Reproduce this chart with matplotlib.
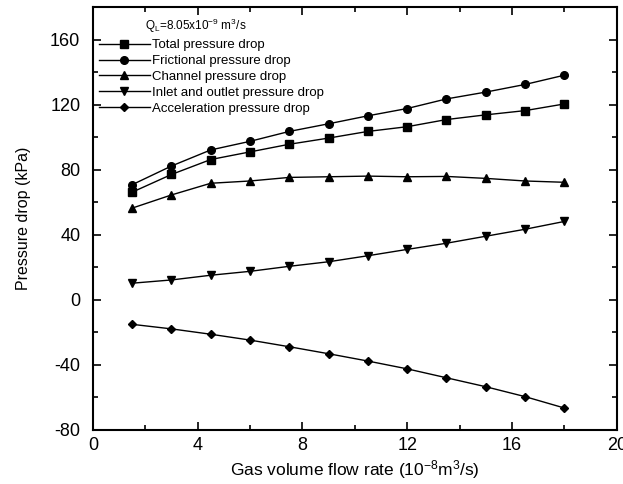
# pressure drop components vs gas flow rate

import matplotlib
matplotlib.use("Agg")
import matplotlib.pyplot as plt
from matplotlib.ticker import MultipleLocator

plt.rcParams["font.family"] = ["Liberation Sans", "DejaVu Sans"]
plt.rcParams["mathtext.fontset"] = "custom"
plt.rcParams["mathtext.rm"] = "Liberation Sans"
plt.rcParams["mathtext.it"] = "Liberation Sans"
plt.rcParams["axes.unicode_minus"] = False

# data
gas_flow = [1.5, 3, 4.5, 6, 7.5, 9, 10.5, 12, 13.5, 15, 16.5, 18]
total = [66.2, 77.1, 86.3, 91.0, 95.7, 99.5, 103.6, 106.5, 110.9, 113.8, 116.4, 120.5]
frictional = [70.8, 82.3, 92.2, 97.5, 103.6, 108.3, 113.2, 117.7, 123.6, 127.8, 132.5, 138.2]
channel = [56.4, 64.5, 71.7, 73.1, 75.3, 75.7, 76.1, 75.7, 75.9, 74.7, 73.1, 72.3]
inlet_outlet = [10.2, 12.2, 15.1, 17.5, 20.6, 23.4, 27.1, 31.0, 34.8, 39.1, 43.4, 48.2]
acceleration = [-15.1, -17.9, -21.2, -24.8, -28.9, -33.2, -37.7, -42.5, -48.0, -53.5, -59.6, -66.6]

series = [
    (total, "s", "Total pressure drop"),
    (frictional, "o", "Frictional pressure drop"),
    (channel, "^", "Channel pressure drop"),
    (inlet_outlet, "v", "Inlet and outlet pressure drop"),
    (acceleration, "D", "Acceleration pressure drop"),
]

fig = plt.figure(figsize=(6.23, 4.84), dpi=100)
ax = fig.add_axes([0.149, 0.112, 0.841, 0.873])

for vals, mk, lab in series:
    ms = 4.5 if mk == "D" else 5.5
    ax.plot(gas_flow, vals, color="black", lw=1.0, marker=mk, ms=ms, label=lab)

ax.set_xlim(0, 20)
ax.set_ylim(-80, 180)
ax.xaxis.set_major_locator(MultipleLocator(4))
ax.xaxis.set_minor_locator(MultipleLocator(2))
ax.yaxis.set_minor_locator(MultipleLocator(20))
ax.set_yticks([-80, -40, 0, 40, 80, 120, 160])
ax.tick_params(which="both", direction="in", top=True, right=True, width=1.2)
ax.tick_params(which="major", length=6, labelsize=13)
ax.tick_params(axis="y", which="major", pad=9)
ax.tick_params(axis="x", which="major", pad=5)
ax.tick_params(which="minor", length=3.5)
for s in ax.spines.values():
    s.set_linewidth(1.5)

ax.set_xlabel("Gas volume flow rate (10$^{-8}$m$^{3}$/s)", fontsize=12.5, labelpad=3)
ax.set_ylabel("Pressure drop (kPa)", fontsize=11.5, labelpad=14)

ax.text(0.10, 0.955, "Q$_{L}$=8.05x10$^{-9}$ m$^{3}$/s", transform=ax.transAxes,
        fontsize=8.5, va="center")
ax.legend(loc="upper left", bbox_to_anchor=(0.0, 0.94), frameon=False,
          fontsize=9.5, handlelength=3.8, handletextpad=0.15,
          labelspacing=0.27, borderaxespad=0.3, borderpad=0.2)

fig.savefig("out.png", dpi=100)
